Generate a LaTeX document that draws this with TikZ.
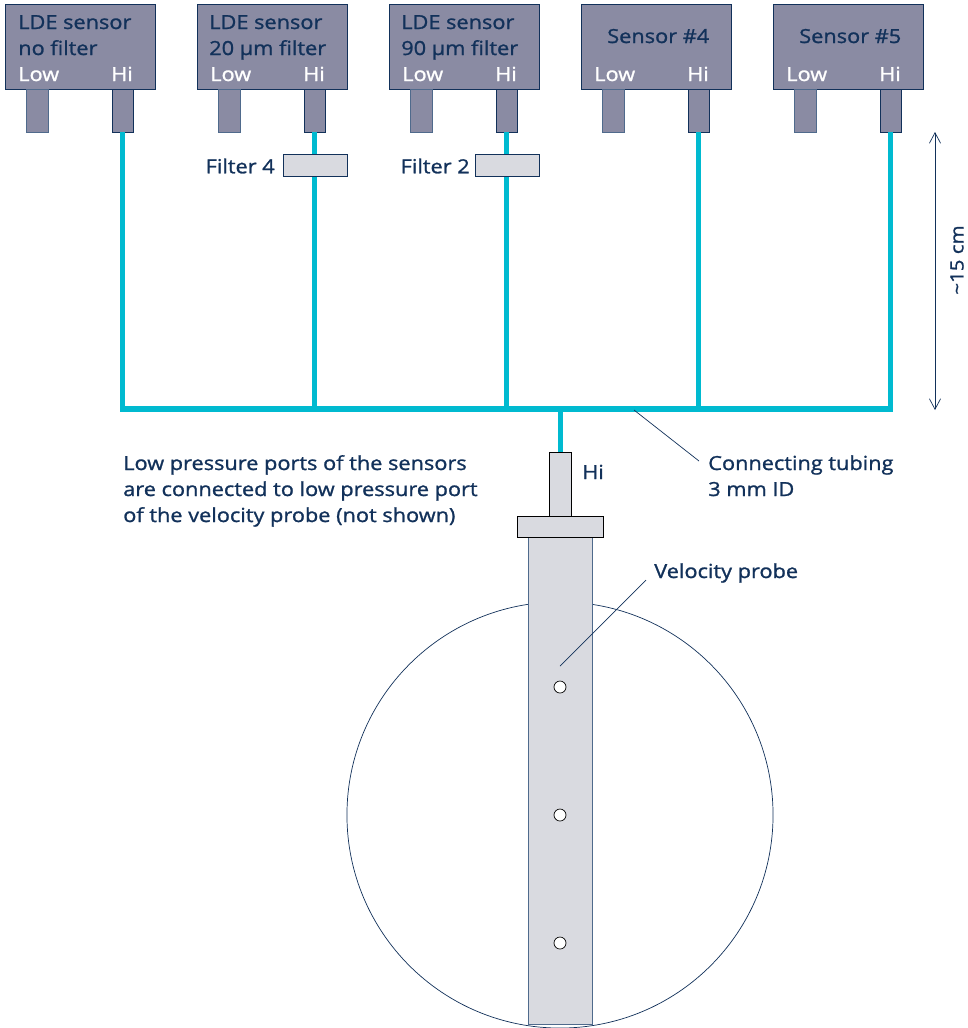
\documentclass[tikz,border=0pt]{standalone}
\usepackage{fontspec}
\setmainfont[FakeBold=1.2, FakeStretch=1.12]{Open Sans}
\usepackage{xcolor}
\usetikzlibrary{arrows.meta}
\definecolor{probeink}{HTML}{12315A}
\definecolor{sensorgrey}{HTML}{8A8BA3}
\definecolor{probegrey}{HTML}{D9DAE0}
\definecolor{tubeteal}{HTML}{00BAD0}
\definecolor{edgeblue}{HTML}{4F6A8C}

\begin{document}
\begin{tikzpicture}[
  x=0.025cm,
  y=-0.025cm,
  every node/.style={font=\fontsize{13.8}{17}\selectfont, probeink, inner sep=0pt},
  sensorbox/.style={draw=probeink, fill=sensorgrey, line width=0.6pt, minimum width=3.75cm, minimum height=2.125cm},
  lowport/.style={draw=edgeblue, fill=sensorgrey, line width=0.6pt, minimum width=0.55cm, minimum height=1.075cm},
  hiport/.style={draw=probeink, fill=sensorgrey, line width=0.6pt, minimum width=0.525cm, minimum height=1.075cm},
  filterbox/.style={draw=probeink, fill=probegrey, line width=0.5pt, minimum width=1.6cm, minimum height=0.55cm},
  tube/.style={tubeteal, line width=3.8pt},
  leader/.style={probeink, line width=0.5pt},
  dimen/.style={probeink, line width=0.5pt, {Straight Barb[length=7.5pt, width=8pt]}-{Straight Barb[length=7.5pt, width=8pt]}},
  probepart/.style={draw=black, fill=probegrey, line width=0.6pt},
  hole/.style={circle, draw=black, fill=white, line width=0.5pt, minimum size=0.3cm}
]
  \useasboundingbox (0,0) rectangle (968,1028);

  % ================= the manifold =======================================
  \coordinate (teeA) at (122.5,409);
  \coordinate (teeB) at (314.5,409);
  \coordinate (teeC) at (506.5,409);
  \coordinate (teeD) at (698.5,409);
  \coordinate (teeE) at (890.5,409);
  \coordinate (teeProbe) at (560.5,409);

  % ================= the five sensors ===================================
  \foreach \n/\x in {A/0, B/192, C/384, D/576, E/768} {
    \node[sensorbox] (sensor\n) at (80+\x,46.5) {};
    \node[lowport] (low\n) at (37+\x,110.5) {};
    \node[hiport] (hi\n) at (122.5+\x,110.5) {};
    \node[anchor=base west, white] (lowtext\n) at (18+\x,81) {Low};
    \node[anchor=base, white] (hitext\n) at (122+\x,81) {Hi};
    \draw[tube] (hi\n.south) -- (tee\n);
  }
  \draw[tube, line cap=rect] (teeA) -- (teeE);
  \draw[tube] (teeProbe) -- (560.5,452);

  \node[anchor=base west] (nameA) at (18,29) {LDE sensor};
  \node[anchor=base west] (subA) at (18,55) {no filter};
  \node[anchor=base west] (nameB) at (209,29) {LDE sensor};
  \node[anchor=base west] (subB) at (209,55) {20 µm filter};
  \node[anchor=base west] (nameC) at (401,29) {LDE sensor};
  \node[anchor=base west] (subC) at (401,55) {90 µm filter};
  \node[anchor=base west] (nameD) at (607,43) {Sensor \#4};
  \node[anchor=base west] (nameE) at (799,43) {Sensor \#5};

  % ================= the filters ========================================
  \node[filterbox] (filterB) at (315,165) {};
  \node[filterbox] (filterC) at (507,165) {};
  \node[anchor=east] (filterBtext) at (275,166) {Filter 4};
  \node[anchor=east] (filterCtext) at (470,166) {Filter 2};

  % ================= the velocity probe =================================
  \node[circle, draw=probeink, line width=0.5pt, minimum size=10.65cm] (duct) at (560,815) {};
  \draw[probepart, draw=edgeblue] (528,537) rectangle (592,1024);
  \draw[probepart] (549,452) rectangle (571,516);
  \draw[probepart] (517,516) rectangle (603,537);
  \node[hole] (holeA) at (560,687) {};
  \node[hole] (holeB) at (560,815) {};
  \node[hole] (holeC) at (560,943) {};
  \node[anchor=base west] (probehi) at (582,479) {Hi};

  % ================= labels and leaders =================================
  \node[anchor=base west] (lowA) at (123,470) {Low pressure ports of the sensors};
  \node[anchor=base west] (lowB) at (123,496) {are connected to low pressure port};
  \node[anchor=base west] (lowC) at (123,522) {of the velocity probe (not shown)};
  \node[anchor=base west] (tubetext) at (708,470) {Connecting tubing};
  \node[anchor=base west] (tubeid) at (708,496) {3 mm ID};
  \node[anchor=base west] (probetext) at (654,578) {Velocity probe};
  \coordinate (tubeleader) at (634,410);
  \coordinate (tubeend) at (699,461);
  \coordinate (probeleader) at (560,666);
  \coordinate (probeend) at (646,580);
  \draw[leader] (tubeleader) -- (tubeend);
  \draw[leader] (probeleader) -- (probeend);

  % ================= the length =========================================
  \coordinate (dimtop) at (935,132);
  \coordinate (dimbot) at (935,410);
  \draw[dimen] (dimtop) -- (dimbot);
  \node[rotate=90, font=\fontsize{13}{17}\selectfont] (dimtext) at (957,260) {\~{}15 cm};
\end{tikzpicture}
\end{document}
